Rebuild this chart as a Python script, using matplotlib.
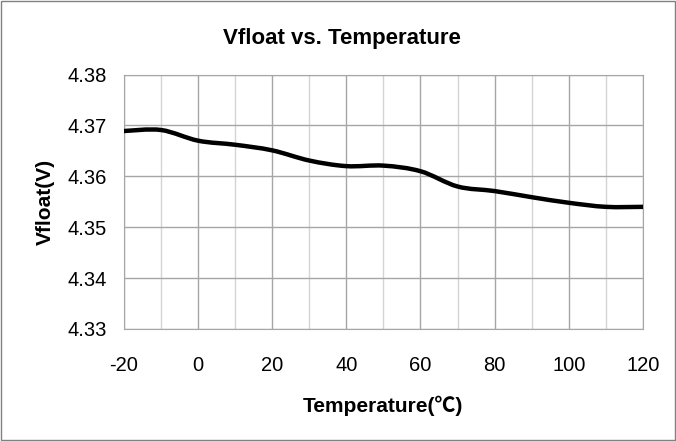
import numpy as np
import matplotlib.pyplot as plt
from matplotlib.path import Path
from matplotlib.patches import PathPatch, Rectangle

plt.rcParams['font.family'] = ['Liberation Sans', 'Noto Sans CJK SC', 'DejaVu Sans']
plt.rcParams['axes.unicode_minus'] = False

# datos
temperatura = [-20, -10, 0, 10, 20, 30, 40, 50, 60, 70, 80, 90, 100, 110, 120]
vfloat = [4.3689, 4.3691, 4.3670, 4.3662, 4.3651, 4.3631, 4.3620, 4.3621, 4.3610,
          4.3580, 4.3571, 4.3559, 4.3548, 4.3540, 4.3540]

xticks = [-20, 0, 20, 40, 60, 80, 100, 120]
yticks = [4.33, 4.34, 4.35, 4.36, 4.37, 4.38]


def curva_suave(x, y, t=1 / 6):
    """curva tipo Excel: bezier cubica entre los puntos medidos"""
    x = np.asarray(x, float)
    y = np.asarray(y, float)
    verts = [(x[0], y[0])]
    codes = [Path.MOVETO]
    n = len(x)
    for i in range(n - 1):
        i0 = max(i - 1, 0)
        i3 = min(i + 2, n - 1)
        c1 = (x[i] + (x[i + 1] - x[i0]) * t, y[i] + (y[i + 1] - y[i0]) * t)
        c2 = (x[i + 1] - (x[i3] - x[i]) * t, y[i + 1] - (y[i3] - y[i]) * t)
        verts += [c1, c2, (x[i + 1], y[i + 1])]
        codes += [Path.CURVE4] * 3
    return Path(verts, codes)


fig = plt.figure(figsize=(6.76, 4.41), dpi=100)
ax = fig.add_axes([0.1834, 0.254, 0.7676, 0.577])

ax.add_patch(PathPatch(curva_suave(temperatura, vfloat), fill=False,
                       edgecolor='black', linewidth=3.2, capstyle='round',
                       joinstyle='round', zorder=3))

ax.set_xlim(-20, 120)
ax.set_ylim(4.33, 4.38)
ax.set_xticks(xticks)
ax.set_xticks(np.arange(-10, 120, 20), minor=True)
ax.set_yticks(yticks)
ax.set_yticklabels(['%.2f' % v for v in yticks])

ax.grid(True, which='major', color='#a6a6a6', linewidth=1)
ax.grid(True, which='minor', axis='x', color='#d4d4d4', linewidth=1)
ax.set_axisbelow(True)
ax.tick_params(which='both', length=0, labelsize=14.5)
ax.tick_params(axis='x', pad=19.5)
ax.tick_params(axis='y', pad=12.5)
for s in ax.spines.values():
    s.set_color('#a6a6a6')

# el titulo va centrado en la figura, no en el eje
ax.set_title('Vfloat vs. Temperature', fontsize=16, fontweight='bold', pad=22, x=0.42)
ax.set_xlabel('Temperature(℃)', fontsize=15, fontweight='bold', labelpad=15)
ax.set_ylabel('Vfloat(V)', fontsize=15, fontweight='bold', labelpad=9)

fig.patches.append(Rectangle((0.002, 0.002), 0.996, 0.996, transform=fig.transFigure,
                             fill=False, edgecolor='#808080', linewidth=1))

plt.savefig('out.png', dpi=100)
